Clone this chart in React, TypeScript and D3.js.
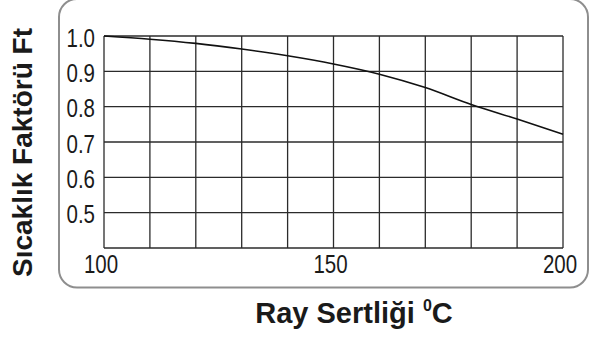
import React from 'react';
import * as d3 from 'd3';

const hardness = [100, 110, 120, 130, 140, 150, 160, 170, 180, 190, 200];
const factor = [1.0, 0.991, 0.979, 0.963, 0.944, 0.921, 0.892, 0.854, 0.806, 0.765, 0.722];
const yTicks = [1.0, 0.9, 0.8, 0.7, 0.6, 0.5];
const xLabels = [100, 150, 200];
const yTitle = 'Sıcaklık Faktörü Ft';
const xTitle = 'Ray Sertliği ';

const App = () => {
    const width = 589, height = 338;
    const plot = { left: 104, right: 563, top: 36, bottom: 248 };

    const x = d3.scaleLinear().domain([100, 200]).range([plot.left, plot.right]);
    const y = d3.scaleLinear().domain([0.4, 1.0]).range([plot.bottom, plot.top]);

    const line = d3.line<number>()
        .x((d, i) => x(hardness[i]))
        .y(d => y(d))
        .curve(d3.curveMonotoneX);

    // no narrow font installed, so squeeze Liberation Sans horizontally
    const tickFont = '"Liberation Sans", Arial, sans-serif';
    const squeeze = 0.82;

    const vGrid = d3.range(100, 201, 10).map(v => (
        <line key={'v' + v} x1={x(v)} x2={x(v)} y1={plot.top} y2={plot.bottom}
              stroke="#2b2b2b" strokeWidth={1.3}/>
    ));
    const hGrid = d3.range(0.4, 1.001, 0.1).map((v, i) => (
        <line key={'h' + i} x1={plot.left} x2={plot.right} y1={y(v)} y2={y(v)}
              stroke="#2b2b2b" strokeWidth={1.3}/>
    ));

    return (
        <svg width={width} height={height}
             style={{ position: 'absolute', left: 0, top: 0, background: '#fff' }}>
            <rect x={59} y={-1} width={529} height={288.5} rx={18} ry={18}
                  fill="none" stroke="#8e8e8e" strokeWidth={2}/>
            {hGrid}
            {vGrid}
            <path d={line(factor) || ''} fill="none" stroke="#111" strokeWidth={1.6}/>
            {yTicks.map(v => (
                <text key={v} transform={`translate(95,${y(v) + 10.5}) scale(${squeeze},1)`}
                      textAnchor="end" fontFamily={tickFont} fontSize={25} fill="#1a1a1a">
                    {v.toFixed(1)}
                </text>
            ))}
            {xLabels.map(v => (
                <text key={v} transform={`translate(${x(v) - 3},273) scale(${squeeze},1)`}
                      textAnchor="middle" fontFamily={tickFont} fontSize={25} fill="#1a1a1a">
                    {v}
                </text>
            ))}
            <text transform="translate(32,152.5) rotate(-90)" textAnchor="middle"
                  fontFamily={tickFont} fontWeight="bold" fontSize={28} fill="#1a1a1a">
                {yTitle}
            </text>
            <text x={354} y={323} textAnchor="middle"
                  fontFamily={tickFont} fontWeight="bold" fontSize={29} fill="#1a1a1a">
                {xTitle}
                <tspan fontSize={16} dy={-12}>0</tspan>
                <tspan dy={12}>C</tspan>
            </text>
        </svg>
    );
};

export default App;
